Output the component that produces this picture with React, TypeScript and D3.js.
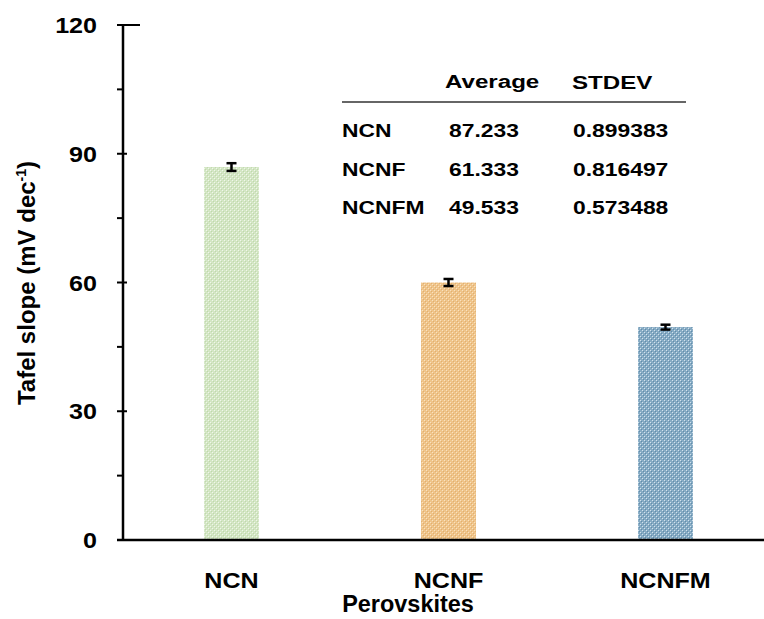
import React from "react";
import * as d3 from "d3";

const categories = ["NCN", "NCNF", "NCNFM"];
const values = [86.9, 60.0, 49.6];
const errors = [0.9, 0.82, 0.57];
const yTicks = [0, 30, 60, 90, 120];
const yMinor = [15, 45, 75, 105];
const tableRows = ["NCN", "NCNF", "NCNFM"];
const tableAvg = ["87.233", "61.333", "49.533"];
const tableStd = ["0.899383", "0.816497", "0.573488"];
const tableHeaders = ["Average", "STDEV"];

const W = 764, H = 619;
const FONT = "'Liberation Sans', Arial, sans-serif";

function SText({ x, y, sx = 1, size, anchor = "start", children }: any) {
  return (
    <text
      transform={`translate(${x},${y}) scale(${sx},1)`}
      fontFamily={FONT}
      fontWeight="bold"
      fontSize={size}
      textAnchor={anchor}
      fill="#000"
    >
      {children}
    </text>
  );
}

export default function App() {
  const y = d3.scaleLinear().domain([0, 120]).range([540, 25]);
  const x = d3.scaleBand<string>().domain(categories).range([123, 774]).paddingInner(0.747).paddingOuter(0.3735);
  const fills = ["url(#pGreen)", "url(#pOrange)", "url(#pBlue)"];
  return (
    <svg width={W} height={H} style={{ position: "absolute", left: 0, top: 0, background: "#fff" }}>
      <defs>
        <pattern id="pGreen" width="4" height="4" patternUnits="userSpaceOnUse">
          <rect width="4" height="4" fill="#d3e6c4" />
          <rect x="0" y="0" width="1" height="1" fill="#f0f7ea" />
          <rect x="2" y="2" width="1" height="1" fill="#f0f7ea" />
          <rect x="1" y="1" width="1" height="1" fill="#c0d8ab" />
          <rect x="3" y="3" width="1" height="1" fill="#c0d8ab" />
        </pattern>
        <pattern id="pOrange" width="4" height="4" patternUnits="userSpaceOnUse">
          <rect width="4" height="4" fill="#efc48a" />
          <rect x="0" y="0" width="1" height="1" fill="#f9e2c0" />
          <rect x="2" y="2" width="1" height="1" fill="#f9e2c0" />
          <rect x="1" y="1" width="1" height="1" fill="#e2af6e" />
          <rect x="3" y="3" width="1" height="1" fill="#e2af6e" />
        </pattern>
        <pattern id="pBlue" width="4" height="4" patternUnits="userSpaceOnUse">
          <rect width="4" height="4" fill="#86abc4" />
          <rect x="0" y="0" width="1" height="1" fill="#d2e2ed" />
          <rect x="2" y="2" width="1" height="1" fill="#d2e2ed" />
          <rect x="1" y="1" width="1" height="1" fill="#628caa" />
          <rect x="3" y="3" width="1" height="1" fill="#628caa" />
        </pattern>
      </defs>

      {/* bars */}
      {categories.map((c, i) => (
        <rect key={c} x={x(c)} y={y(values[i])} width={x.bandwidth()} height={y(0) - y(values[i])} fill={fills[i]} />
      ))}
      {/* error bars */}
      {categories.map((c, i) => {
        const cx = (x(c) as number) + x.bandwidth() / 2;
        const t = y(values[i] + errors[i]);
        const b = y(values[i] - errors[i]);
        return (
          <g key={c} stroke="#000" strokeWidth={2.5}>
            <line x1={cx} x2={cx} y1={t} y2={b} />
            <line x1={cx - 5} x2={cx + 5} y1={t} y2={t} />
            <line x1={cx - 5} x2={cx + 5} y1={b} y2={b} />
          </g>
        );
      })}

      {/* axes */}
      <line x1={123} x2={123} y1={y(120)} y2={y(0)} stroke="#000" strokeWidth={2.5} />
      <line x1={117} x2={764} y1={y(0)} y2={y(0)} stroke="#000" strokeWidth={2.5} />
      <line x1={117} x2={140} y1={y(120)} y2={y(120)} stroke="#000" strokeWidth={2} />
      {yTicks.filter((t) => t !== 0 && t !== 120).map((t) => (
        <line key={t} x1={117} x2={127} y1={y(t)} y2={y(t)} stroke="#000" strokeWidth={2} />
      ))}
      {yMinor.map((t) => (
        <line key={t} x1={117} x2={123} y1={y(t)} y2={y(t)} stroke="#000" strokeWidth={2} />
      ))}
      {yTicks.map((t) => (
        <SText key={"l" + t} x={97} y={y(t) + 8} sx={1.14} size={22} anchor="end">{t}</SText>
      ))}
      {categories.map((c) => (
        <SText key={c} x={(x(c) as number) + x.bandwidth() / 2} y={588} sx={1.14} size={22} anchor="middle">{c}</SText>
      ))}
      <SText x={408} y={612} sx={1.02} size={23} anchor="middle">Perovskites</SText>
      <text transform={`translate(35,283) rotate(-90)`} fontFamily={FONT} fontWeight="bold" fontSize={24} textAnchor="middle">
        Tafel slope (mV dec<tspan dy={-9} fontSize={14}>-1</tspan><tspan dy={9}>)</tspan>
      </text>

      {/* table */}
      <SText x={445} y={88} sx={1.27} size={19}>{tableHeaders[0]}</SText>
      <SText x={572} y={89} sx={1.27} size={19}>{tableHeaders[1]}</SText>
      <line x1={342} x2={686} y1={102} y2={102} stroke="#333" strokeWidth={1.5} />
      {tableRows.map((r, i) => (
        <g key={r}>
          <SText x={342} y={137 + i * 38.5} sx={1.27} size={18}>{r}</SText>
          <SText x={449} y={137 + i * 38.5} sx={1.27} size={18}>{tableAvg[i]}</SText>
          <SText x={573} y={137 + i * 38.5} sx={1.27} size={18}>{tableStd[i]}</SText>
        </g>
      ))}
    </svg>
  );
}
